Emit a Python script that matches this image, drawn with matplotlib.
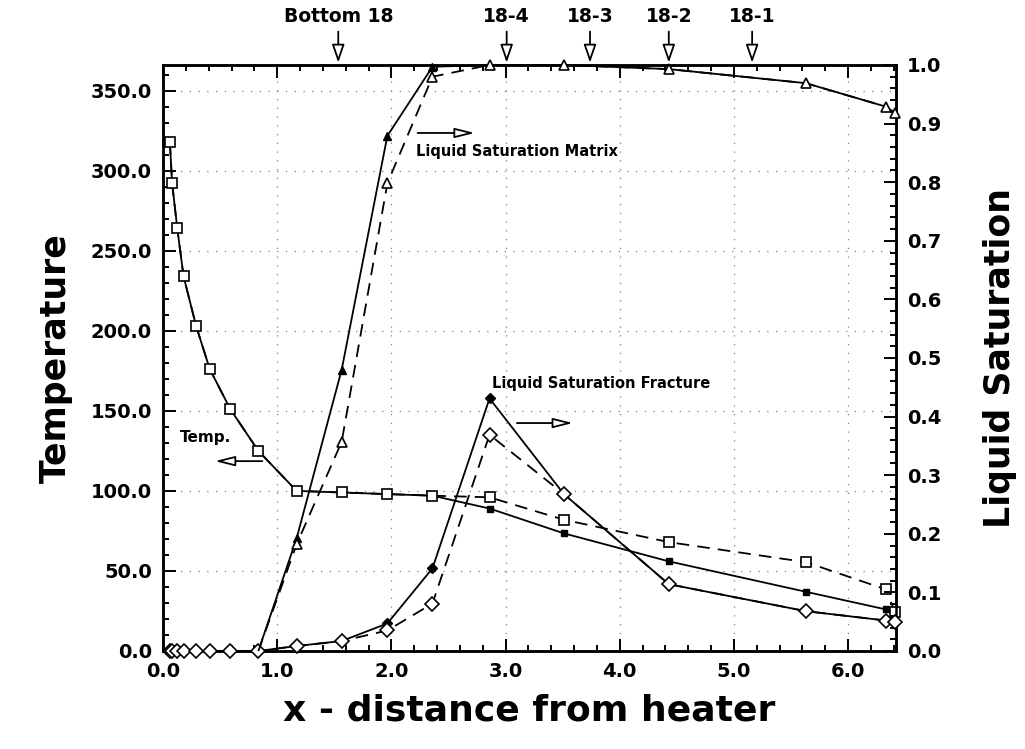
import numpy as np
import matplotlib.pyplot as plt
from matplotlib.ticker import MultipleLocator, FormatStrFormatter

plt.rcParams['font.family'] = ['DejaVu Sans']
plt.rcParams['font.weight'] = 'bold'
plt.rcParams['axes.labelweight'] = 'bold'

# distance from heater, shared by all series
x = [0.06, 0.08, 0.125, 0.18, 0.29, 0.41, 0.59, 0.835, 1.17, 1.565, 1.965,
     2.36, 2.86, 3.51, 4.43, 5.63, 6.33, 6.41]

# temperature, two cases (solid / dashed)
temp_solid = [318, 292, 264, 234, 203, 176, 151, 125, 100, 99, 98, 97,
              89, 73.5, 56, 37, 26, 24.6]
temp_dash = [318, 292, 264, 234, 203, 176, 151, 125, 100, 99, 98, 97,
             96, 82, 68, 55.5, 38.5, 24.6]

# fracture liquid saturation
frac_solid = [0, 0, 0, 0, 0, 0, 0, 0, 0.0085, 0.017, 0.047, 0.141,
              0.431, 0.268, 0.114, 0.068, 0.052, 0.05]
frac_dash = [0, 0, 0, 0, 0, 0, 0, 0, 0.0085, 0.017, 0.035, 0.081,
             0.369, 0.268, 0.114, 0.068, 0.052, 0.05]

# matrix liquid saturation (starts at x = 0.835)
matrix_x = x[7:]
matrix_solid = [0, 0.192, 0.48, 0.879, 0.997, 1.0, 1.0, 0.993, 0.969, 0.929, 0.918]
matrix_dash = [0, 0.182, 0.357, 0.798, 0.98, 1.0, 1.0, 0.993, 0.969, 0.929, 0.918]

# points where the solid case differs -> filled markers
temp_diff = [12, 13, 14, 15, 16]
frac_diff = [10, 11, 12]
matrix_diff = [1, 2, 3, 4]

gauges = ['Bottom 18', '18-4', '18-3', '18-2', '18-1']
gauge_x = [1.535, 3.01, 3.74, 4.43, 5.16]

fig = plt.figure(figsize=(10.25, 7.49), dpi=100)
ax = fig.add_axes([163 / 1025, 1 - 651 / 749, (896 - 163) / 1025, (651 - 65) / 749])
ax2 = ax.twinx()

lw = 1.3
dash = (0, (7, 4.5))

# temperature
ax.plot(x, temp_solid, color='black', lw=lw, marker='s', ms=5, mfc='black',
        mec='black', markevery=temp_diff, clip_on=False, zorder=3)
ax.plot(x, temp_dash, color='black', lw=lw, ls=dash, marker='s', ms=7.5,
        mfc='white', mec='black', mew=1.2, clip_on=False, zorder=4)

# saturation
ax2.plot(x, frac_solid, color='black', lw=lw, marker='D', ms=5.5, mfc='black',
         mec='black', markevery=frac_diff, clip_on=False, zorder=3)
ax2.plot(x, frac_dash, color='black', lw=lw, ls=dash, marker='D', ms=7,
         mfc='white', mec='black', mew=1.2, clip_on=False, zorder=4)
ax2.plot(matrix_x, matrix_solid, color='black', lw=lw, marker='^', ms=6,
         mfc='black', mec='black', markevery=matrix_diff, clip_on=False, zorder=3)
ax2.plot(matrix_x, matrix_dash, color='black', lw=lw, ls=dash, marker='^', ms=7.5,
         mfc='white', mec='black', mew=1.2, markevery=list(range(1, len(matrix_x))),
         clip_on=False, zorder=4)

ax.set_xlim(0, 6.42)
ax.set_ylim(0, 366)
ax2.set_ylim(0, 1)

ax.xaxis.set_major_locator(MultipleLocator(1))
ax.xaxis.set_minor_locator(MultipleLocator(0.2))
ax.xaxis.set_major_formatter(FormatStrFormatter('%.1f'))
ax.yaxis.set_major_locator(MultipleLocator(50))
ax.yaxis.set_minor_locator(MultipleLocator(10))
ax.yaxis.set_major_formatter(FormatStrFormatter('%.1f'))
ax2.yaxis.set_major_locator(MultipleLocator(0.1))
ax2.yaxis.set_minor_locator(MultipleLocator(0.02))
ax2.yaxis.set_major_formatter(FormatStrFormatter('%.1f'))

ax.tick_params(which='both', direction='in', top=True, right=False, width=1.4,
               labelsize=14, pad=8)
ax.tick_params(which='major', length=9)
ax.tick_params(which='minor', length=4.5)
ax2.tick_params(which='both', direction='in', left=False, width=1.4,
                labelsize=14, pad=8)
ax2.tick_params(which='major', length=9)
ax2.tick_params(which='minor', length=4.5)

for a in (ax, ax2):
    for s in a.spines.values():
        s.set_linewidth(1.8)

ax.grid(True, which='major', ls=(0, (1, 6)), lw=0.9, color='0.5')

ax.set_xlabel('x - distance from heater', fontsize=26, labelpad=9)
ax.set_ylabel('Temperature', fontsize=25, labelpad=13)
ax2.set_ylabel('Liquid Saturation', fontsize=25, labelpad=30)

# gauge markers above the plot
trans = ax.get_xaxis_transform()
for name, gx in zip(gauges, gauge_x):
    ax.annotate('', xy=(gx, 1.004), xytext=(gx, 1.057), xycoords=trans,
                arrowprops=dict(arrowstyle='-|>,head_length=1.1,head_width=0.38',
                                fc='white', ec='black', lw=1.3, mutation_scale=10,
                                shrinkA=0, shrinkB=0), annotation_clip=False)
    ax.text(gx, 1.066, name, transform=trans, ha='center', va='bottom', fontsize=13.5)

arrow = dict(arrowstyle='-|>,head_length=1.2,head_width=0.3', fc='white', ec='black',
             lw=1.3, mutation_scale=10, shrinkA=0, shrinkB=0)

ax2.annotate('', xy=(2.73, 0.884), xytext=(2.23, 0.884), arrowprops=arrow)
ax2.text(2.22, 0.853, 'Liquid Saturation Matrix', fontsize=10.5, va='center', ha='left')

ax2.annotate('', xy=(3.59, 0.389), xytext=(3.10, 0.389), arrowprops=arrow)
ax2.text(2.88, 0.457, 'Liquid Saturation Fracture', fontsize=10.5, va='center', ha='left')

ax2.annotate('', xy=(0.455, 0.324), xytext=(0.87, 0.324), arrowprops=arrow)
ax2.text(0.15, 0.365, 'Temp.', fontsize=11, va='center', ha='left')

fig.savefig('out.png', dpi=100)
